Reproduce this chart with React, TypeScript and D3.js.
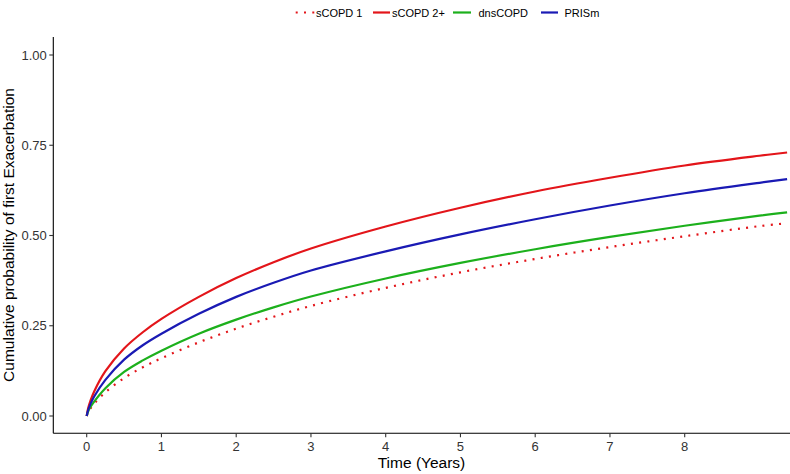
import React from "react";
import * as d3 from "d3";

const times = [0, 0.02, 0.05, 0.1, 0.25, 0.5, 0.75, 1, 1.5, 2, 2.5, 3, 4, 5, 6, 7, 8, 9, 9.37];
const sCOPD1 = [0, 0.011, 0.021, 0.034, 0.066, 0.105, 0.135, 0.160, 0.204, 0.242, 0.275, 0.305, 0.355, 0.398, 0.435, 0.468, 0.498, 0.526, 0.534];
const sCOPD2 = [0, 0.022, 0.042, 0.068, 0.124, 0.187, 0.232, 0.269, 0.330, 0.382, 0.426, 0.464, 0.525, 0.577, 0.622, 0.660, 0.694, 0.721, 0.730];
const dnsCOPD = [0, 0.013, 0.025, 0.040, 0.077, 0.122, 0.154, 0.181, 0.228, 0.267, 0.301, 0.331, 0.381, 0.424, 0.462, 0.496, 0.527, 0.555, 0.564];
const PRISm = [0, 0.017, 0.033, 0.054, 0.100, 0.156, 0.196, 0.228, 0.283, 0.330, 0.369, 0.403, 0.456, 0.503, 0.545, 0.583, 0.617, 0.646, 0.656];

const xTicks = [0, 1, 2, 3, 4, 5, 6, 7, 8];
const yTicks = [0, 0.25, 0.5, 0.75, 1];

const seriesNames = ["sCOPD 1", "sCOPD 2+", "dnsCOPD", "PRISm"];
const seriesValues = [sCOPD1, sCOPD2, dnsCOPD, PRISm];
const seriesColors = ["#e3151a", "#e3151a", "#1cb01c", "#1a1ab4"];
const seriesDash = ["2 6.3", null, null, null];

const FONT = "'Liberation Sans', Arial, Helvetica, sans-serif";

export default function App() {
  const W = 790;
  const H = 474;
  const x = d3.scaleLinear().domain([0, 8]).range([86.7, 684.7]);
  const y = d3.scaleLinear().domain([0, 1]).range([416, 55]);
  const axisLeftX = 53.3;
  const axisBottomY = 433.3;
  const xAxisEnd = 790;
  const yAxisTop = 37;

  const line = d3
    .line<number>()
    .x((_, i) => x(times[i]))
    .y((d) => y(d))
    .curve(d3.curveCatmullRom.alpha(0.5));

  const fmt = d3.format(".2f");

  const legend = [
    { x0: 295.7, x1: 314.5, tx: 316 },
    { x0: 373, x1: 390, tx: 392 },
    { x0: 453, x1: 471, tx: 478.5 },
    { x0: 541, x1: 558, tx: 564.5 },
  ];

  return (
    <div style={{ position: "absolute", left: 0, top: 0 }}>
      <svg width={W} height={H} style={{ display: "block", background: "#fff" }}>
        {seriesValues.map((vals, i) => (
          <path
            key={seriesNames[i]}
            d={line(vals) || ""}
            fill="none"
            stroke={seriesColors[i]}
            strokeWidth={2.2}
            strokeDasharray={seriesDash[i] || undefined}
          />
        ))}

        <line x1={axisLeftX} x2={axisLeftX} y1={yAxisTop} y2={axisBottomY} stroke="#000" strokeWidth={1.1} />
        {yTicks.map((t) => (
          <g key={t}>
            <line x1={axisLeftX - 4} x2={axisLeftX} y1={y(t)} y2={y(t)} stroke="#333" strokeWidth={1.1} />
            <text
              x={axisLeftX - 6.5}
              y={y(t) + 4.6}
              textAnchor="end"
              fontFamily={FONT}
              fontSize={13}
              fill="#333"
            >
              {fmt(t)}
            </text>
          </g>
        ))}

        <line x1={axisLeftX} x2={xAxisEnd} y1={axisBottomY} y2={axisBottomY} stroke="#000" strokeWidth={1.1} />
        {xTicks.map((t) => (
          <g key={t}>
            <line x1={x(t)} x2={x(t)} y1={axisBottomY} y2={axisBottomY + 4} stroke="#333" strokeWidth={1.1} />
            <text
              x={x(t)}
              y={451}
              textAnchor="middle"
              fontFamily={FONT}
              fontSize={13}
              fill="#333"
            >
              {t}
            </text>
          </g>
        ))}

        <text x={421.5} y={468} textAnchor="middle" fontFamily={FONT} fontSize={15.5} fill="#000">
          Time (Years)
        </text>
        <text
          transform={`translate(13.5, 235) rotate(-90)`}
          textAnchor="middle"
          fontFamily={FONT}
          fontSize={15.5}
          fill="#000"
        >
          Cumulative probability of first Exacerbation
        </text>

        {legend.map((l, i) => (
          <g key={seriesNames[i]}>
            <line
              x1={l.x0}
              x2={l.x1}
              y1={12.5}
              y2={12.5}
              stroke={seriesColors[i]}
              strokeWidth={2.2}
              strokeDasharray={seriesDash[i] || undefined}
            />
            <text x={l.tx} y={16.5} fontFamily={FONT} fontSize={11} fill="#000">
              {seriesNames[i]}
            </text>
          </g>
        ))}
      </svg>
    </div>
  );
}
